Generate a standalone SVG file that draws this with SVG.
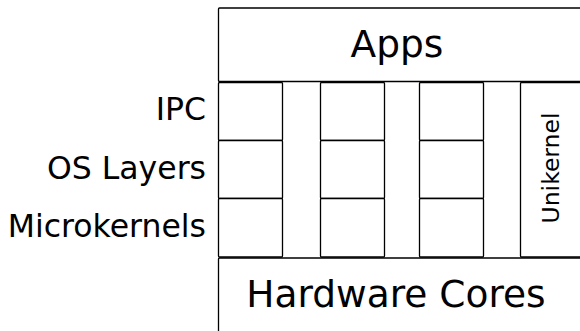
<svg xmlns="http://www.w3.org/2000/svg" width="580" height="331" viewBox="0 0 580 331">
<style>
.box{fill:#fff;stroke:#000;stroke-width:1.3}
.t{font-family:"DejaVu Sans",sans-serif;fill:#000}
.big{font-size:37.5px;text-anchor:middle}
.lbl{font-size:31.5px;text-anchor:end}
.uk{font-size:23.5px;text-anchor:middle}
</style>
<rect width="580" height="331" fill="#fff"/>
<g id="apps">
<rect class="box" x="218.5" y="8" width="380" height="73.5" rx="1"/>
<text class="t big" x="397" y="56.5">Apps</text>
</g>
<g id="hardware">
<rect class="box" x="218.5" y="258" width="380" height="90" rx="1"/>
<text class="t big" x="396" y="307">Hardware Cores</text>
</g>
<g id="labels">
<text class="t lbl" x="206" y="120">IPC</text>
<text class="t lbl" x="206" y="179">OS Layers</text>
<text class="t lbl" x="206" y="237">Microkernels</text>
</g>
<g id="col1">
<rect class="box" x="218.5" y="82.5" width="64" height="58" rx="1"/>
<rect class="box" x="218.5" y="140.5" width="64" height="58" rx="1"/>
<rect class="box" x="218.5" y="198.5" width="64" height="58.5" rx="1"/>
</g>
<g id="col2">
<rect class="box" x="320.5" y="82.5" width="64" height="58" rx="1"/>
<rect class="box" x="320.5" y="140.5" width="64" height="58" rx="1"/>
<rect class="box" x="320.5" y="198.5" width="64" height="58.5" rx="1"/>
</g>
<g id="col3">
<rect class="box" x="419.5" y="82.5" width="64" height="58" rx="1"/>
<rect class="box" x="419.5" y="140.5" width="64" height="58" rx="1"/>
<rect class="box" x="419.5" y="198.5" width="64" height="58.5" rx="1"/>
</g>
<g id="unikernel">
<rect class="box" x="520.5" y="82.5" width="80" height="174.5" rx="1"/>
<text class="t uk" transform="translate(558.5,168) rotate(-90)">Unikernel</text>
</g>
<g id="connectors"></g>
</svg>
